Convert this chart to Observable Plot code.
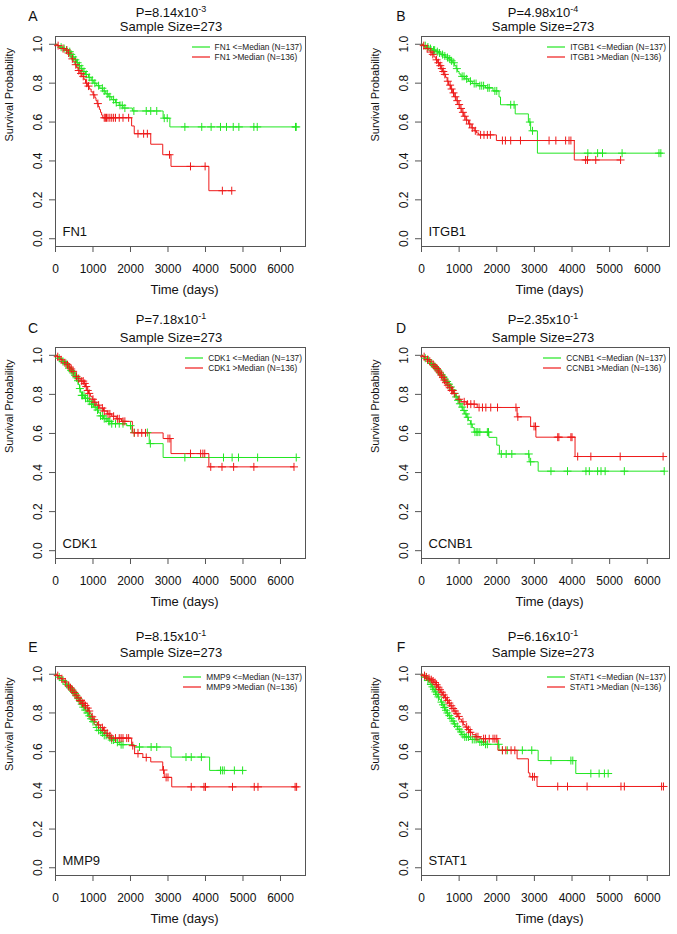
<!DOCTYPE html>
<html>
<head>
<meta charset="utf-8">
<script src="https://cdn.jsdelivr.net/npm/d3@7"></script>
<script src="https://cdn.jsdelivr.net/npm/@observablehq/plot@0.6"></script>
<style>
  body { margin: 0; background: #fff; font-family: "Liberation Sans", Arial, Helvetica, sans-serif; color: #111; }
  #fig { position: relative; width: 677px; height: 934px; overflow: hidden; background: #fff; }
  .panel { position: absolute; }
  .panel > svg { position: absolute; left: 0; top: 0; }
  .ttl { position: absolute; transform: translate(-50%, -50%); font-size: 13px; line-height: 1; white-space: nowrap; }
  .ttl .sup { font-size: 9px; position: relative; top: -5px; }
  .ltr { position: absolute; transform: translate(-50%, -50%); font-size: 14px; line-height: 1; }
  .leg { position: absolute; font-size: 8.3px; line-height: 10px; color: #222; }
  .leg .row { display: flex; align-items: center; height: 10px; white-space: nowrap; }
  .leg .sw { display: block; width: 18px; height: 4px; margin-right: 5px; flex: none; }
</style>
</head>
<body>
<div id="fig"></div>
<script>
// ---------------- data ----------------
const genes = ["FN1", "ITGB1", "CDK1", "CCNB1", "MMP9", "STAT1"];
const panelLetters = ["A", "B", "C", "D", "E", "F"];
const pMantissa = ["8.14", "4.98", "7.18", "2.35", "8.15", "6.16"];
const pExponent = ["-3", "-4", "-1", "-1", "-1", "-1"];
const sampleSize = 273;
const nLow = 137;
const nHigh = 136;
const xTicks = [0, 1000, 2000, 3000, 4000, 5000, 6000];
const yTicks = [0, 0.2, 0.4, 0.6, 0.8, 1.0];
const groupColors = ["#22e622", "#ee1a1a"];

// steps: [time (days), survival after the drop]; censor: times of "+" marks
const fn1LowSteps = [[60,0.993],[120,0.985],[200,0.978],[280,0.97],[330,0.962],[400,0.948],[450,0.935],[500,0.92],[560,0.905],[620,0.89],[680,0.875],[730,0.86],[800,0.845],[880,0.83],[950,0.815],[1020,0.80],[1100,0.787],[1180,0.774],[1260,0.76],[1340,0.745],[1420,0.73],[1500,0.715],[1600,0.70],[1700,0.686],[1800,0.672],[2050,0.657],[2870,0.62],[3050,0.575]];
const fn1LowCensor = [150,230,300,380,420,470,530,590,640,700,760,820,900,980,1050,1150,1250,1300,1380,1450,1550,1620,1720,1780,1850,2090,2420,2540,2700,2900,2980,3450,3900,4150,4400,4560,4740,4890,5290,5380,6400,6420];
const fn1HighSteps = [[50,0.993],[90,0.985],[150,0.978],[250,0.97],[330,0.955],[380,0.94],[420,0.925],[470,0.91],[520,0.895],[560,0.88],[600,0.865],[650,0.85],[700,0.835],[760,0.82],[800,0.80],[850,0.785],[900,0.77],[950,0.755],[1000,0.74],[1050,0.725],[1080,0.71],[1110,0.695],[1140,0.68],[1170,0.665],[1200,0.65],[1230,0.636],[1260,0.622],[2030,0.58],[2100,0.54],[2540,0.486],[2860,0.432],[3080,0.372],[4090,0.247]];
const fn1HighCensor = [70,200,300,350,450,540,620,680,740,830,880,1020,1130,1300,1330,1360,1400,1450,1500,1550,1600,1700,1800,1950,2200,2350,2450,3040,3600,3990,4450,4700];

const itgb1LowSteps = [[60,0.993],[120,0.986],[200,0.978],[280,0.97],[380,0.962],[450,0.955],[520,0.947],[600,0.94],[650,0.932],[720,0.924],[780,0.915],[830,0.905],[880,0.89],[920,0.875],[960,0.86],[1000,0.847],[1050,0.835],[1150,0.822],[1250,0.81],[1350,0.798],[1500,0.787],[1700,0.776],[1900,0.76],[2060,0.729],[2100,0.689],[2490,0.642],[2840,0.60],[2900,0.555],[3080,0.44]];
const itgb1LowCensor = [100,170,240,320,350,420,480,560,620,690,750,800,860,940,1080,1130,1200,1300,1400,1450,1550,1600,1650,1760,1800,1950,2000,2370,2460,2880,2950,4420,4680,4810,5330,6310,6360];
const itgb1HighSteps = [[40,0.993],[80,0.985],[130,0.978],[180,0.97],[230,0.96],[280,0.948],[330,0.935],[380,0.92],[430,0.905],[480,0.89],[520,0.875],[560,0.86],[600,0.845],[640,0.83],[680,0.81],[720,0.79],[770,0.77],[820,0.75],[870,0.73],[920,0.71],[970,0.69],[1020,0.67],[1070,0.65],[1120,0.63],[1180,0.61],[1250,0.59],[1320,0.57],[1400,0.555],[1460,0.544],[1520,0.534],[1990,0.505],[4060,0.405]];
const itgb1HighCensor = [60,150,250,300,400,450,500,540,580,620,700,760,800,850,900,950,1000,1050,1100,1150,1200,1280,1350,1430,1570,1660,1750,1830,2150,2230,2370,2630,3390,3570,3830,3920,3970,4360,4410,4630,5290];

const cdk1LowSteps = [[40,0.993],[90,0.985],[140,0.977],[190,0.968],[240,0.958],[290,0.946],[340,0.934],[390,0.922],[440,0.91],[490,0.898],[530,0.885],[570,0.87],[610,0.85],[640,0.83],[670,0.81],[700,0.795],[780,0.78],[860,0.765],[950,0.75],[1020,0.735],[1100,0.72],[1150,0.705],[1200,0.69],[1280,0.676],[1380,0.662],[1500,0.65],[1900,0.64],[2040,0.605],[2500,0.548],[2870,0.477]];
const cdk1LowCensor = [100,200,280,360,420,470,520,560,600,650,700,720,760,800,850,900,960,1000,1060,1120,1200,1250,1300,1350,1420,1450,1500,1600,1700,1800,2000,2100,2450,2530,3450,4480,4710,4880,5390,6420];
const cdk1HighSteps = [[50,0.993],[100,0.985],[150,0.977],[200,0.97],[250,0.962],[300,0.952],[350,0.94],[400,0.93],[450,0.918],[500,0.905],[550,0.892],[600,0.88],[680,0.868],[760,0.856],[800,0.84],[840,0.82],[880,0.805],[930,0.79],[980,0.775],[1030,0.76],[1100,0.745],[1180,0.73],[1280,0.715],[1380,0.70],[1500,0.688],[1620,0.675],[1760,0.662],[2050,0.603],[2870,0.574],[3080,0.497],[4090,0.429]];
const cdk1HighCensor = [60,150,250,320,380,420,470,560,620,700,740,780,820,860,900,1000,1050,1150,1250,1300,1400,1450,1550,1650,1700,1800,1850,2100,2200,2300,2400,3000,3050,3600,3870,3930,3980,4140,4440,4750,5290,6360];

const ccnb1LowSteps = [[40,0.993],[90,0.985],[140,0.977],[200,0.968],[250,0.958],[300,0.948],[350,0.937],[400,0.926],[450,0.914],[500,0.902],[550,0.89],[600,0.878],[650,0.866],[700,0.852],[750,0.838],[800,0.823],[850,0.805],[900,0.787],[950,0.77],[1000,0.752],[1050,0.735],[1100,0.718],[1150,0.70],[1200,0.683],[1250,0.666],[1300,0.648],[1350,0.63],[1400,0.607],[1790,0.58],[2000,0.54],[2070,0.495],[2860,0.455],[3100,0.407]];
const ccnb1LowCensor = [100,180,260,330,380,430,480,530,580,620,680,730,780,820,880,920,970,1020,1080,1130,1180,1230,1320,1420,1470,1500,1550,1750,1780,2120,2250,2400,2850,2900,3440,3880,4370,4460,4680,4770,4880,5390,6450];
const ccnb1HighSteps = [[40,0.993],[90,0.986],[140,0.978],[190,0.97],[240,0.962],[290,0.952],[340,0.942],[390,0.932],[430,0.92],[470,0.91],[510,0.898],[550,0.886],[590,0.873],[630,0.86],[680,0.847],[730,0.834],[790,0.82],[850,0.805],[920,0.79],[980,0.775],[1050,0.762],[1200,0.75],[1480,0.733],[2540,0.685],[2900,0.636],[3040,0.581],[4080,0.482]];
const ccnb1HighCensor = [70,160,220,310,360,410,450,490,530,570,610,650,700,750,800,830,870,1000,1135,1220,1310,1400,1530,1620,1710,1840,2020,2510,2560,2990,3030,3620,3650,3970,4000,4150,4500,5280,6420];

const mmp9LowSteps = [[40,0.993],[80,0.985],[130,0.977],[180,0.968],[230,0.958],[280,0.948],[330,0.936],[380,0.924],[430,0.912],[480,0.90],[530,0.888],[580,0.874],[630,0.86],[680,0.845],[730,0.83],[780,0.815],[830,0.80],[880,0.785],[930,0.77],[980,0.755],[1030,0.74],[1080,0.725],[1150,0.71],[1220,0.697],[1300,0.684],[1400,0.672],[1500,0.66],[1600,0.648],[1700,0.636],[2100,0.624],[3080,0.572],[4110,0.503]];
const mmp9LowCensor = [100,200,300,360,420,470,520,560,610,660,700,740,790,850,900,950,1000,1100,1150,1200,1250,1300,1350,1450,1500,1550,1650,1750,1800,2240,2550,2700,3480,3620,3890,4400,4450,4500,4770,4990];
const mmp9HighSteps = [[40,0.993],[80,0.985],[130,0.977],[180,0.97],[230,0.96],[280,0.95],[330,0.94],[380,0.93],[430,0.918],[480,0.906],[530,0.892],[580,0.878],[630,0.864],[700,0.85],[780,0.838],[840,0.825],[880,0.81],[920,0.795],[960,0.78],[1000,0.765],[1050,0.752],[1120,0.738],[1200,0.724],[1280,0.71],[1340,0.695],[1400,0.682],[1480,0.67],[2030,0.631],[2110,0.59],[2330,0.57],[2540,0.547],[2860,0.505],[2900,0.467],[3100,0.418]];
const mmp9HighCensor = [60,170,260,350,400,450,500,550,600,650,680,720,760,800,860,900,980,1030,1150,1250,1300,1380,1450,1500,1600,1700,1750,1800,1900,1950,2060,2200,2420,2880,2950,3000,3620,3960,4000,4720,5300,5400,6390,6430];

const stat1LowSteps = [[30,0.993],[70,0.985],[110,0.977],[150,0.968],[190,0.958],[230,0.947],[270,0.935],[310,0.922],[350,0.909],[390,0.896],[430,0.883],[470,0.87],[510,0.856],[550,0.842],[590,0.828],[630,0.814],[670,0.80],[710,0.786],[760,0.772],[810,0.758],[860,0.744],[910,0.73],[960,0.716],[1010,0.702],[1060,0.688],[1150,0.676],[1300,0.663],[1500,0.65],[1700,0.638],[2060,0.607],[3100,0.554],[4100,0.487]];
const stat1LowCensor = [90,170,250,290,330,370,410,450,530,570,610,650,690,740,790,840,880,950,1000,1050,1100,1150,1200,1250,1350,1400,1450,1550,1600,1650,1700,1750,2050,2150,2280,2680,2930,3440,3970,4020,4500,4720,4860,4960];
const stat1HighSteps = [[50,0.993],[100,0.986],[160,0.979],[220,0.972],[280,0.965],[330,0.957],[380,0.946],[430,0.933],[470,0.92],[510,0.907],[560,0.893],[610,0.879],[660,0.865],[710,0.851],[760,0.837],[810,0.823],[860,0.81],[910,0.796],[960,0.782],[1010,0.768],[1060,0.754],[1110,0.74],[1160,0.727],[1220,0.714],[1280,0.70],[1350,0.688],[1450,0.677],[1560,0.667],[2030,0.607],[2540,0.563],[2840,0.49],[2880,0.47],[3070,0.42]];
const stat1HighCensor = [80,130,200,260,310,360,400,450,490,540,590,640,690,740,790,840,890,940,990,1100,1200,1250,1300,1450,1500,1650,1700,1800,1900,1950,2000,2150,2240,2380,2480,2950,3000,3620,3880,4400,5300,5390,6380,6430];

const lowSteps = [fn1LowSteps, itgb1LowSteps, cdk1LowSteps, ccnb1LowSteps, mmp9LowSteps, stat1LowSteps];
const lowCensor = [fn1LowCensor, itgb1LowCensor, cdk1LowCensor, ccnb1LowCensor, mmp9LowCensor, stat1LowCensor];
const highSteps = [fn1HighSteps, itgb1HighSteps, cdk1HighSteps, ccnb1HighSteps, mmp9HighSteps, stat1HighSteps];
const highCensor = [fn1HighCensor, itgb1HighCensor, cdk1HighCensor, ccnb1HighCensor, mmp9HighCensor, stat1HighCensor];

// ---------------- layout ----------------
const colLeft = [0, 338], colWidth = [338, 339];
const mLeft = [55, 83], mRight = [33, 8], xMax = [6667, 6590];
const titleX = [171, 205], letterX = [33, 63];
const rowTop = [0, 305, 615], rowHeight = [305, 310, 319];
const mTop = [36, 42, 51], mBottom = [59, 57, 59];
const pY = [11.7, 14, 20.7], ssY = [26, 31.7, 36.7], letterY = [15.7, 23, 31.7];

const plusSymbol = {
  draw(ctx, size) {
    const h = Math.sqrt(size / Math.PI);
    ctx.moveTo(-h, 0); ctx.lineTo(h, 0);
    ctx.moveTo(0, -h); ctx.lineTo(0, h);
  }
};

function survivalAt(steps, t) {
  let s = 1;
  for (const [ts, ss] of steps) if (ts <= t) s = ss;
  return s;
}
function curvePoints(steps, censor) {
  const pts = [{t: 0, s: 1}];
  for (const [t, s] of steps) pts.push({t, s});
  const end = Math.max(steps[steps.length - 1][0], d3.max(censor));
  pts.push({t: end, s: steps[steps.length - 1][1]});
  return pts;
}
function censorPoints(steps, censor) {
  return censor.map(t => ({t, s: survivalAt(steps, t)}));
}

const fig = document.getElementById("fig");
const SVGNS = "http://www.w3.org/2000/svg";

genes.forEach((gene, i) => {
  const col = i % 2, row = Math.floor(i / 2);
  const W = colWidth[col], H = rowHeight[row];
  const panel = document.createElement("div");
  panel.className = "panel";
  panel.style.left = colLeft[col] + "px";
  panel.style.top = rowTop[row] + "px";
  panel.style.width = W + "px";
  panel.style.height = H + "px";

  const groups = [
    {steps: lowSteps[i], censor: lowCensor[i], color: groupColors[0]},
    {steps: highSteps[i], censor: highCensor[i], color: groupColors[1]}
  ];

  const marks = [
    Plot.frame({stroke: "#555"}),
    Plot.axisX({ticks: xTicks, tickFormat: d => String(d), tickSize: 6, tickPadding: 12, label: null, stroke: "#555", fontSize: 12}),
    Plot.axisY({ticks: yTicks, tickFormat: d => d.toFixed(1), tickRotate: -90, tickSize: 6, tickPadding: 8, label: null, stroke: "#555", fontSize: 12})
  ];
  for (const g of groups) {
    marks.push(Plot.line(curvePoints(g.steps, g.censor), {x: "t", y: "s", curve: "step-after", stroke: g.color, strokeWidth: 1}));
  }
  for (const g of groups) {
    marks.push(Plot.dot(censorPoints(g.steps, g.censor), {x: "t", y: "s", symbol: plusSymbol, r: 4, fill: "none", stroke: g.color, strokeWidth: 1}));
  }
  marks.push(Plot.text(["Time (days)"], {text: d => d, frameAnchor: "bottom", dy: 47, dx: 4, fontSize: 13, fill: "#111"}));
  marks.push(Plot.text(["Survival Probability"], {text: d => d, frameAnchor: "left", rotate: -90, dx: -46, fontSize: 11, fill: "#111"}));
  marks.push(Plot.text([gene], {text: d => d, frameAnchor: "bottom-left", textAnchor: "start", dx: 7, dy: -11, fontSize: 13, fill: "#111"}));

  const svg = Plot.plot({
    width: W, height: H,
    marginLeft: mLeft[col], marginRight: mRight[col], marginTop: mTop[row], marginBottom: mBottom[row],
    x: {domain: [0, xMax[col]]},
    y: {domain: [-0.04, 1.04]},
    style: {fontFamily: "'Liberation Sans', Arial, Helvetica, sans-serif", fontSize: "12px", color: "#111", background: "transparent", overflow: "visible"},
    marks
  });
  panel.appendChild(svg);

  const t1 = document.createElement("div");
  t1.className = "ttl";
  t1.style.left = titleX[col] + "px";
  t1.style.top = pY[row] + "px";
  t1.innerHTML = "P=" + pMantissa[i] + "x10<span class='sup'>" + pExponent[i] + "</span>";
  panel.appendChild(t1);

  const t2 = document.createElement("div");
  t2.className = "ttl";
  t2.style.left = titleX[col] + "px";
  t2.style.top = ssY[row] + "px";
  t2.textContent = "Sample Size=" + sampleSize;
  panel.appendChild(t2);

  const lt = document.createElement("div");
  lt.className = "ltr";
  lt.style.left = letterX[col] + "px";
  lt.style.top = letterY[row] + "px";
  lt.textContent = panelLetters[i];
  panel.appendChild(lt);

  const leg = document.createElement("div");
  leg.className = "leg";
  leg.style.right = (mRight[col] + 3) + "px";
  leg.style.top = (mTop[row] + 6) + "px";
  const labels = [gene + " <=Median (N=" + nLow + ")", gene + " >Median (N=" + nHigh + ")"];
  labels.forEach((lab, k) => {
    const r = document.createElement("div");
    r.className = "row";
    const sw = document.createElementNS(SVGNS, "svg");
    sw.setAttribute("class", "sw");
    sw.setAttribute("width", "18");
    sw.setAttribute("height", "4");
    const ln = document.createElementNS(SVGNS, "line");
    ln.setAttribute("x1", "0"); ln.setAttribute("x2", "18");
    ln.setAttribute("y1", "2"); ln.setAttribute("y2", "2");
    ln.setAttribute("stroke", groupColors[k]);
    ln.setAttribute("stroke-width", "1.2");
    sw.appendChild(ln);
    const tx = document.createElement("span");
    tx.textContent = lab;
    r.appendChild(sw); r.appendChild(tx);
    leg.appendChild(r);
  });
  panel.appendChild(leg);

  fig.appendChild(panel);
});
</script>
</body>
</html>
